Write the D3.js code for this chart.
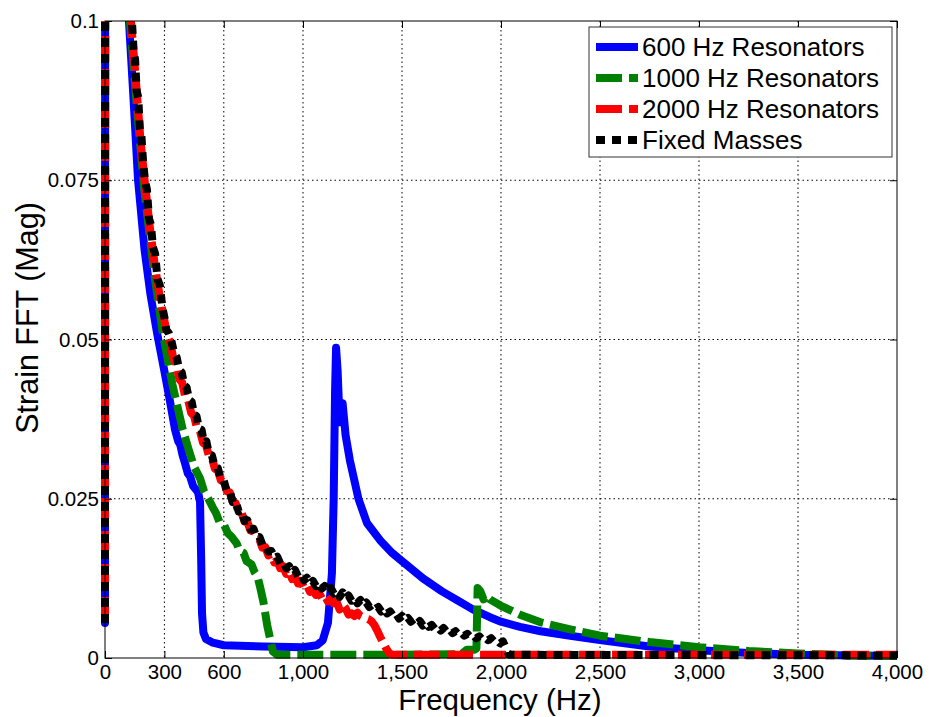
<!DOCTYPE html>
<html>
<head>
<meta charset="utf-8">
<script src="https://cdn.jsdelivr.net/npm/d3@7"></script>
<style>
  html, body { margin: 0; padding: 0; background: #fff; }
  svg { display: block; font-family: "Liberation Sans", Arial, Helvetica, sans-serif; }
</style>
</head>
<body>
<svg id="chart" width="929" height="717"></svg>
<script>
// ---------------- data ----------------
const xTicks = [0, 300, 600, 1000, 1500, 2000, 2500, 3000, 3500, 4000];
const yTicks = [0, 0.025, 0.05, 0.075, 0.1];
const yTickLabels = ["0", "0.025", "0.05", "0.075", "0.1"];

const seriesNames = ["600 Hz Resonators", "1000 Hz Resonators", "2000 Hz Resonators", "Fixed Masses"];
const seriesColors = ["#0000ff", "#008000", "#ff0000", "#000000"];

const blueHz = [0, 4, 80, 104, 121, 140, 167, 200, 230, 263, 300, 330, 354, 370, 380, 392, 404, 418, 430, 445, 458, 470, 480, 486, 490, 497, 510, 545, 600, 800, 1000, 1070, 1100, 1126, 1146, 1155, 1162, 1167, 1175, 1185, 1200, 1215, 1237, 1280, 1323, 1389, 1450, 1500, 1606, 1700, 1777, 1860, 1944, 2000, 2096, 2200, 2350, 2500, 2750, 3000, 3250, 3500, 4000];
const blueMag = [0.0055, 0.6, 0.16, 0.125, 0.1, 0.09, 0.075, 0.064, 0.057, 0.051, 0.045, 0.040, 0.0358, 0.034, 0.0335, 0.0318, 0.0306, 0.029, 0.0285, 0.027, 0.0265, 0.026, 0.0245, 0.015, 0.007, 0.004, 0.003, 0.0024, 0.002, 0.0018, 0.0017, 0.002, 0.0028, 0.0055, 0.0133, 0.025, 0.042, 0.0487, 0.045, 0.037, 0.040, 0.035, 0.031, 0.025, 0.0212, 0.0185, 0.0165, 0.0152, 0.0125, 0.0105, 0.0091, 0.0076, 0.0064, 0.0057, 0.0049, 0.0042, 0.0035, 0.0028, 0.0018, 0.0012, 0.0008, 0.0005, 0.0003];

const greenHz = [0, 4, 90, 108, 126, 165, 200, 250, 292, 340, 393, 420, 450, 480, 500, 522, 545, 560, 580, 600, 620, 640, 665, 680, 700, 715, 740, 755, 770, 783, 800, 820, 848, 870, 1200, 1500, 1800, 1828, 1865, 1876, 1882, 1895, 1912, 1925, 1944, 2000, 2096, 2200, 2350, 2500, 2750, 3000, 3250, 3500, 3750, 4000];
const greenMag = [0.0055, 0.6, 0.16, 0.125, 0.1, 0.085, 0.073, 0.06, 0.051, 0.043, 0.0358, 0.033, 0.030, 0.0282, 0.0262, 0.025, 0.0236, 0.0228, 0.0212, 0.021, 0.0196, 0.019, 0.018, 0.0168, 0.0165, 0.0152, 0.0147, 0.0135, 0.0128, 0.0112, 0.0088, 0.005, 0.001, 0.0005, 0.0005, 0.0005, 0.0006, 0.0013, 0.0013, 0.0015, 0.011, 0.0105, 0.0092, 0.0098, 0.0092, 0.0082, 0.0068, 0.0056, 0.0045, 0.0035, 0.0025, 0.0017, 0.0011, 0.0007, 0.0004, 0.0003];

const redHz = [0, 4, 90, 110, 131, 150, 165, 180, 200, 225, 250, 275, 300, 315, 330, 345, 360, 375, 390, 405, 420, 435, 450, 465, 480, 495, 510, 525, 540, 555, 570, 585, 600, 615, 630, 645, 660, 675, 690, 705, 720, 735, 750, 765, 780, 795, 810, 825, 840, 855, 870, 885, 900, 915, 930, 945, 960, 975, 990, 1005, 1020, 1035, 1050, 1065, 1080, 1095, 1110, 1125, 1140, 1155, 1170, 1185, 1200, 1215, 1230, 1245, 1260, 1275, 1290, 1310, 1330, 1345, 1360, 1375, 1390, 1405, 1420, 1435, 1450, 4000];
const redMag = [0.0055, 0.6, 0.16, 0.125, 0.1, 0.093, 0.087, 0.081, 0.075, 0.068, 0.062, 0.057, 0.053, 0.0505, 0.0495, 0.047, 0.0462, 0.0438, 0.0432, 0.041, 0.0405, 0.0385, 0.038, 0.036, 0.0356, 0.0338, 0.0334, 0.0317, 0.0314, 0.0297, 0.0295, 0.0279, 0.0277, 0.0262, 0.026, 0.0245, 0.0243, 0.0229, 0.0228, 0.0214, 0.0213, 0.0200, 0.0199, 0.0186, 0.0186, 0.0173, 0.0174, 0.0161, 0.0163, 0.0150, 0.0153, 0.0141, 0.0144, 0.0132, 0.0136, 0.0124, 0.0128, 0.0117, 0.0121, 0.0110, 0.0114, 0.0104, 0.0108, 0.0099, 0.0103, 0.0094, 0.0098, 0.0089, 0.0093, 0.0086, 0.0088, 0.0076, 0.0084, 0.0078, 0.0068, 0.0070, 0.0066, 0.0071, 0.0066, 0.0063, 0.0061, 0.0058, 0.0052, 0.0043, 0.0033, 0.0024, 0.0015, 0.0008, 0.0005, 0.0005];

const blackHz = [0, 4, 90, 112, 136, 145, 152, 160, 168, 176, 184, 192, 202, 212, 222, 232, 242, 253, 265, 277, 290, 300, 310, 322, 335, 350, 362, 375, 388, 400, 412, 425, 438, 450, 462, 475, 488, 500, 512, 525, 540, 555, 570, 585, 600, 615, 630, 645, 660, 675, 690, 705, 720, 735, 750, 765, 780, 795, 810, 825, 840, 855, 870, 885, 900, 915, 930, 945, 960, 975, 990, 1005, 1020, 1035, 1050, 1065, 1080, 1095, 1110, 1125, 1140, 1155, 1170, 1185, 1200, 1215, 1230, 1245, 1260, 1275, 1290, 1305, 1320, 1335, 1350, 1365, 1380, 1395, 1410, 1425, 1440, 1455, 1470, 1485, 1500, 1515, 1530, 1545, 1560, 1575, 1590, 1605, 1620, 1635, 1650, 1665, 1680, 1695, 1710, 1725, 1740, 1755, 1770, 1785, 1800, 1815, 1830, 1845, 1860, 1875, 1890, 1905, 1920, 1935, 1950, 1965, 1980, 1995, 2010, 2025, 2040, 4000];
const blackMag = [0.0055, 0.6, 0.16, 0.125, 0.1, 0.095, 0.094, 0.089, 0.088, 0.083, 0.082, 0.078, 0.075, 0.0735, 0.069, 0.068, 0.0645, 0.0635, 0.0595, 0.0585, 0.055, 0.0535, 0.0515, 0.0510, 0.0498, 0.0478, 0.0472, 0.0452, 0.0448, 0.0428, 0.0425, 0.0405, 0.0402, 0.0382, 0.0380, 0.0360, 0.0358, 0.0338, 0.0340, 0.0320, 0.0318, 0.0300, 0.0298, 0.0280, 0.0278, 0.0262, 0.0262, 0.0245, 0.0246, 0.0230, 0.0232, 0.0215, 0.0216, 0.0202, 0.0203, 0.0189, 0.0190, 0.0178, 0.0178, 0.0167, 0.0168, 0.0157, 0.0159, 0.0148, 0.0151, 0.0141, 0.0144, 0.0134, 0.0138, 0.0128, 0.0132, 0.0122, 0.0126, 0.0117, 0.0121, 0.0113, 0.0118, 0.0109, 0.0113, 0.0104, 0.0110, 0.0101, 0.0105, 0.0096, 0.0103, 0.0094, 0.0098, 0.0090, 0.0094, 0.0086, 0.0091, 0.0083, 0.0087, 0.0080, 0.0084, 0.0077, 0.0080, 0.0073, 0.0077, 0.0070, 0.0073, 0.0066, 0.0070, 0.0062, 0.0066, 0.0060, 0.0063, 0.0057, 0.0061, 0.0054, 0.0058, 0.0051, 0.0055, 0.0049, 0.0052, 0.0046, 0.0049, 0.0043, 0.0047, 0.0041, 0.0045, 0.0039, 0.0042, 0.0037, 0.0040, 0.0035, 0.0038, 0.0033, 0.0036, 0.0031, 0.0034, 0.0029, 0.0032, 0.0028, 0.0031, 0.0026, 0.0028, 0.0023, 0.0026, 0.0015, 0.0005, 0.0004];

const dashes = [null, "26,7", "26,7", "9,7"];

// ---------------- layout ----------------
const svg = d3.select("#chart");
const L = 105, R = 897, T = 21, B = 658;
const x = d3.scaleLinear().domain([0, 4000]).range([L, R]);
const y = d3.scaleLinear().domain([0, 0.1]).range([B, T]);

svg.append("rect").attr("width", 929).attr("height", 717).attr("fill", "#fff");

// grid
const grid = svg.append("g");
grid.selectAll("line.vg").data(xTicks.filter(d => d > 0 && d < 4000)).join("line")
  .attr("x1", d => x(d)).attr("x2", d => x(d)).attr("y1", T).attr("y2", B)
  .attr("stroke", "#000").attr("stroke-width", 1).attr("stroke-dasharray", "1.5,3");
grid.selectAll("line.hg").data(yTicks.filter(d => d > 0 && d < 0.1)).join("line")
  .attr("x1", L).attr("x2", R).attr("y1", d => y(d)).attr("y2", d => y(d))
  .attr("stroke", "#000").attr("stroke-width", 1).attr("stroke-dasharray", "1.5,3");

// clip
svg.append("clipPath").attr("id", "clip").append("rect")
  .attr("x", L - 5).attr("y", T).attr("width", R - L + 5).attr("height", B - T + 4);

const series = [
  { hz: blueHz, mag: blueMag },
  { hz: greenHz, mag: greenMag },
  { hz: redHz, mag: redMag },
  { hz: blackHz, mag: blackMag }
];

const line = d3.line().x(d => x(d[0])).y(d => y(d[1]));
const lines = svg.append("g").attr("clip-path", "url(#clip)");
series.forEach((s, i) => {
  const pts = s.hz.map((h, k) => [h, s.mag[k]]);
  lines.append("path").datum(pts)
    .attr("d", line)
    .attr("fill", "none")
    .attr("stroke", seriesColors[i])
    .attr("stroke-width", 8)
    .attr("stroke-linejoin", "round")
    .attr("stroke-linecap", dashes[i] ? "butt" : "round")
    .attr("stroke-dasharray", dashes[i]);
});

// axes
const fmtX = d3.format(",");
const xAxis = svg.append("g").attr("transform", `translate(0,${B})`)
  .call(d3.axisBottom(x).tickValues(xTicks).tickFormat(fmtX).tickSizeInner(-7).tickSizeOuter(0).tickPadding(6));
const yAxis = svg.append("g").attr("transform", `translate(${L},0)`)
  .call(d3.axisLeft(y).tickValues(yTicks).tickFormat((d, i) => yTickLabels[i]).tickSizeInner(-7).tickSizeOuter(0).tickPadding(6));
const xTop = svg.append("g").attr("transform", `translate(0,${T})`)
  .call(d3.axisTop(x).tickValues(xTicks).tickFormat("").tickSizeInner(-7).tickSizeOuter(0));
const yRight = svg.append("g").attr("transform", `translate(${R},0)`)
  .call(d3.axisRight(y).tickValues(yTicks).tickFormat("").tickSizeInner(-7).tickSizeOuter(0));
[xAxis, yAxis, xTop, yRight].forEach(g => {
  g.select(".domain").remove();
  g.selectAll("line").attr("stroke", "#000");
  g.selectAll("text").attr("font-size", 20.5).attr("fill", "#000")
    .attr("font-family", "'Liberation Sans', Arial, Helvetica, sans-serif");
});

// box
svg.append("rect").attr("x", L).attr("y", T).attr("width", R - L).attr("height", B - T)
  .attr("fill", "none").attr("stroke", "#000").attr("stroke-width", 1);

// axis titles
svg.append("text").attr("x", 500).attr("y", 710).attr("text-anchor", "middle")
  .attr("font-size", 29.5).attr("fill", "#000").text("Frequency (Hz)");
svg.append("text").attr("transform", "translate(38,318) rotate(-90)").attr("text-anchor", "middle")
  .attr("font-size", 30.5).attr("fill", "#000").text("Strain FFT (Mag)");

// legend
const lg = svg.append("g");
lg.append("rect").attr("x", 589).attr("y", 27).attr("width", 303).attr("height", 130)
  .attr("fill", "#fff").attr("stroke", "#333").attr("stroke-width", 1);
const rowY = [47, 78, 109, 140];
seriesNames.forEach((name, i) => {
  lg.append("line").attr("x1", 596).attr("x2", 638).attr("y1", rowY[i]).attr("y2", rowY[i])
    .attr("stroke", seriesColors[i]).attr("stroke-width", 8)
    .attr("stroke-dasharray", dashes[i]);
  lg.append("text").attr("x", 642).attr("y", rowY[i] + 9)
    .attr("font-size", 26).attr("fill", "#000").text(name);
});
</script>
</body>
</html>
